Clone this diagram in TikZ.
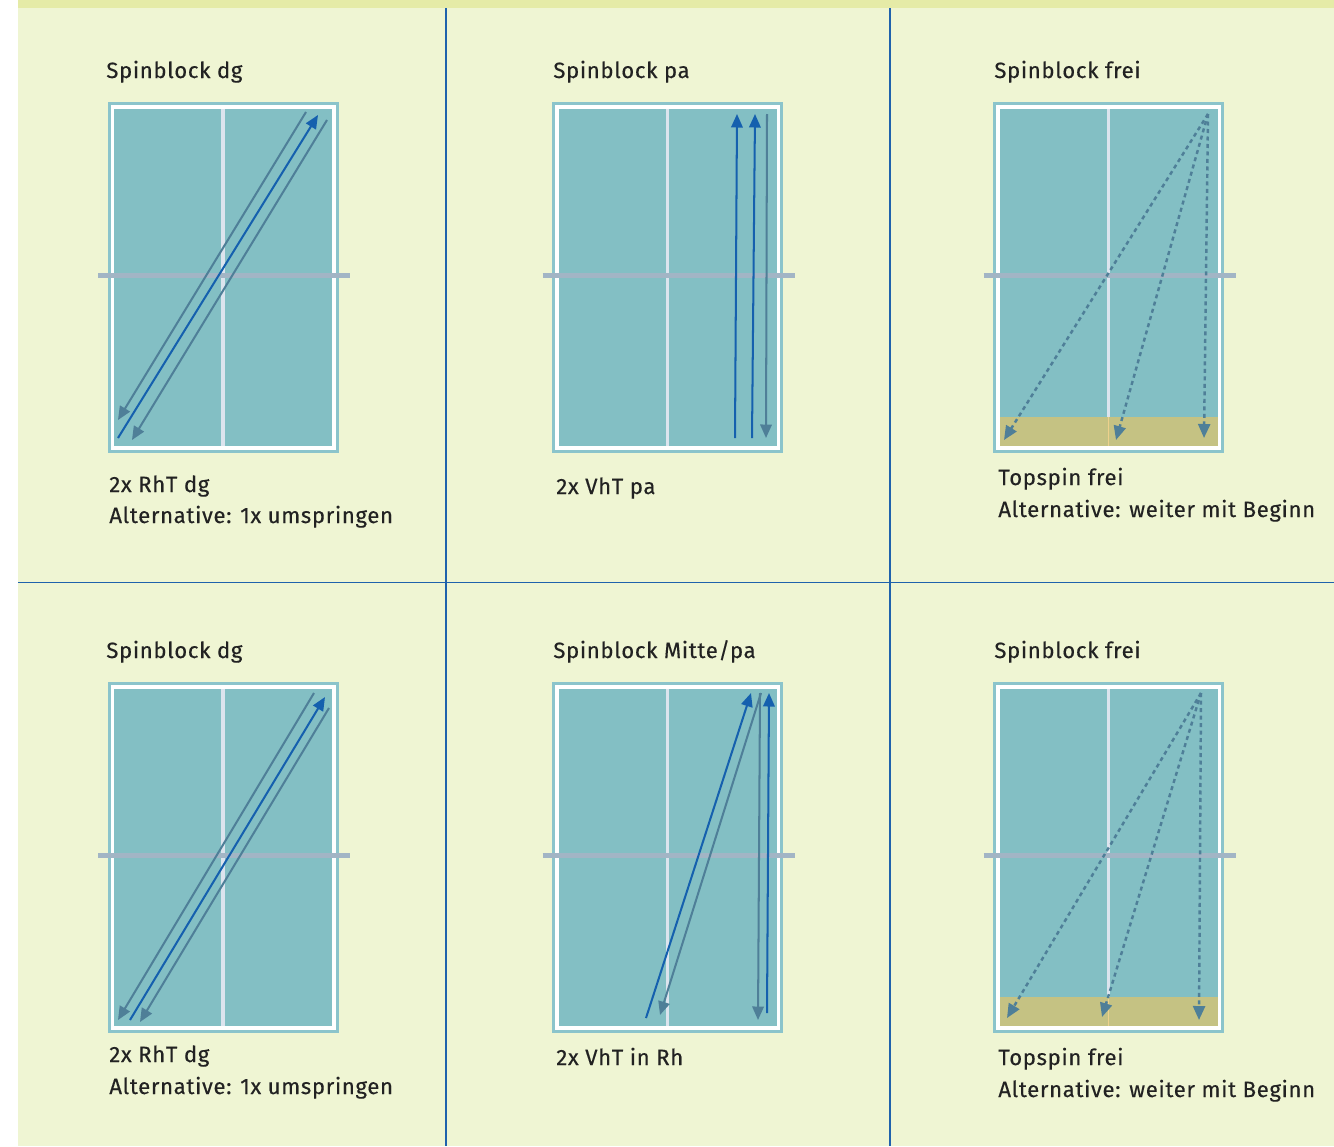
\documentclass[tikz,border=0pt]{standalone}
\usepackage{fontspec}
\setmainfont{Fira Sans}[LetterSpace=3.0, FakeBold=0.3]
\usetikzlibrary{arrows.meta}
\definecolor{paper}{HTML}{EFF5D3}
\definecolor{topband}{HTML}{E5EBA7}
\definecolor{divider}{HTML}{1F62AC}
\definecolor{tableborder}{HTML}{8BC4CB}
\definecolor{tabletop}{HTML}{83BFC4}
\definecolor{midline}{HTML}{DCE4EE}
\definecolor{netgray}{HTML}{A2B5C5}
\definecolor{zoneyellow}{HTML}{C5C283}
\definecolor{zoneline}{HTML}{EDD18C}
\definecolor{strokeblue}{HTML}{1560AE}
\definecolor{strokegray}{HTML}{4F7F98}
\definecolor{textgray}{HTML}{222222}
\begin{document}
\begin{tikzpicture}[
  x=0.02cm, y=-0.02cm,
  caption/.style={anchor=base west, inner sep=0pt, text=textgray, font=\fontsize{12.6}{15}\selectfont},
  divline/.style={draw=divider, line width=1pt},
  hit/.style={draw=strokeblue, line width=1.15pt, -{Triangle[length=0.27cm,width=0.23cm]}},
  back/.style={draw=strokegray, line width=1.15pt, -{Triangle[length=0.27cm,width=0.23cm]}},
  topspin/.style={draw=strokegray, line width=1.4pt, dash pattern=on 0.08cm off 0.07cm, -{Triangle[length=0.28cm,width=0.24cm]}}
]
\useasboundingbox (0,0) rectangle (1334,1146);
\fill[white] (0,0) rectangle (1334,1146);
\fill[paper] (18,0) rectangle (1334,1146);
\fill[topband] (18,0) rectangle (1334,8);
\draw[divline] (446,8) -- (446,1146);
\draw[divline] (890,8) -- (890,1146);
\draw[divline] (18,582.5) -- (1334,582.5);

% tables
\foreach \tx/\ty in {107.5/102, 552/102, 993/102, 107.5/682, 552/682, 993/682} {
  \begin{scope}[shift={(\tx,\ty)}]
    \fill[tableborder] (0,0) rectangle (231,351);
    \fill[white] (3,3) rectangle (228,348);
    \fill[tabletop] (6.5,7) rectangle (224.5,344);
    \draw[midline, line width=1.8pt] (115.5,7) -- (115.5,344);
    \draw[netgray, line width=2.8pt] (-9.5,173.5) -- (242.5,173.5);
  \end{scope}
}
\foreach \ty in {102, 682} {
  \begin{scope}[shift={(993,\ty)}]
    \fill[zoneyellow] (6.5,315) rectangle (224.5,344);
    \draw[zoneline, line width=0.8pt] (115.5,315) -- (115.5,344);
  \end{scope}
}

% titles
\node[caption] (title11) at (106,78) {Spinblock dg};
\node[caption] (title12) at (553,78) {Spinblock pa};
\node[caption] (title13) at (994,78) {Spinblock frei};
\node[caption] (title21) at (106,658) {Spinblock dg};
\node[caption] (title22) at (553,658) {Spinblock Mitte/pa};
\node[caption] (title23) at (994,658) {Spinblock frei};

% captions
\node[caption] (cap11) at (109,492) {2x RhT dg};
\node[caption] (alt11) at (109,523) {Alternative: 1x umspringen};
\node[caption] (cap12) at (556,494) {2x VhT pa};
\node[caption] (cap13) at (998,485) {Topspin frei};
\node[caption] (alt13) at (998,517) {Alternative: weiter mit Beginn};
\node[caption] (cap21) at (109,1062) {2x RhT dg};
\node[caption] (alt21) at (109,1094) {Alternative: 1x umspringen};
\node[caption] (cap22) at (556,1065) {2x VhT in Rh};
\node[caption] (cap23) at (998,1065) {Topspin frei};
\node[caption] (alt23) at (998,1097) {Alternative: weiter mit Beginn};

% ball paths, top row
\draw[back] (306,112) -- (118,420);
\draw[back] (327,120) -- (132,440);
\draw[hit] (118,438) -- (318,115);
\draw[hit] (735,438) -- (737,114);
\draw[hit] (752,438) -- (755,114);
\draw[back] (767,114) -- (766,438);
\draw[topspin] (1208,114) -- (1004,440);
\draw[topspin] (1208,114) -- (1116,440);
\draw[topspin] (1208,114) -- (1204,438);

% ball paths, bottom row
\draw[back] (314,693) -- (118,1020);
\draw[back] (329,708) -- (140,1022);
\draw[hit] (130,1020) -- (325,697);
\draw[hit] (646,1018) -- (751,693);
\draw[back] (761,693) -- (660,1015);
\draw[back] (760,693) -- (758,1020);
\draw[hit] (767,1013) -- (769,693);
\draw[topspin] (1201,693) -- (1007,1018);
\draw[topspin] (1201,693) -- (1102,1017);
\draw[topspin] (1201,693) -- (1199,1020);
\end{tikzpicture}
\end{document}
